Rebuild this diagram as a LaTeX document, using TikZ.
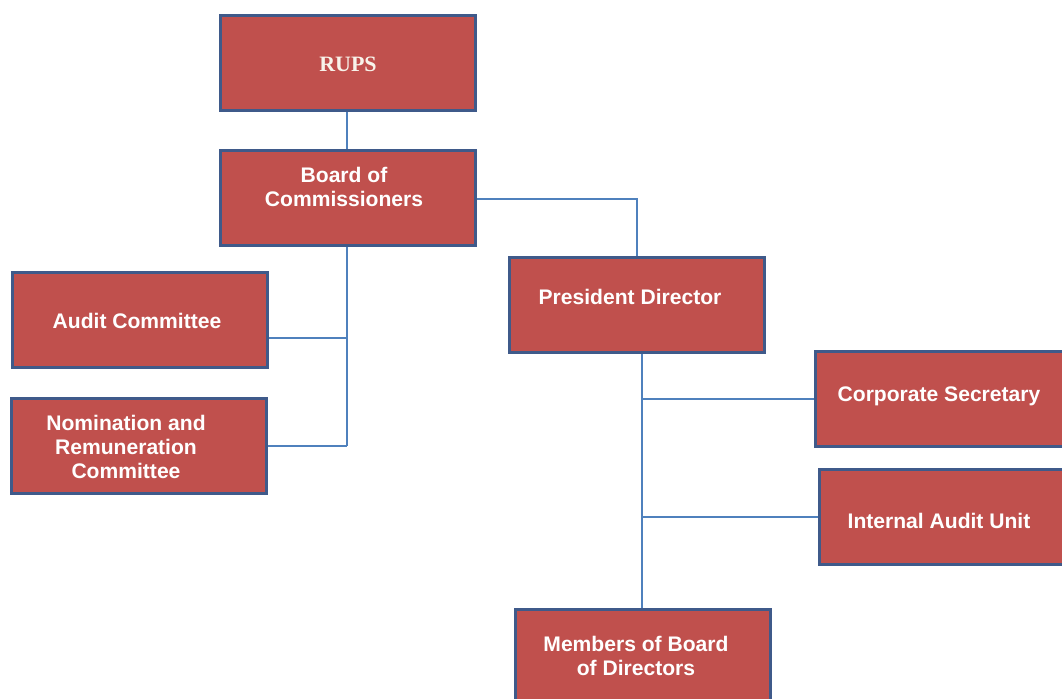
\documentclass[tikz,border=0pt]{standalone}
\usepackage{fontspec}
\setmainfont{Liberation Sans}
\newfontfamily\rupsfont{Liberation Serif}
\definecolor{boxred}{HTML}{C0504D}
\definecolor{boxedge}{HTML}{3F5A8A}
\definecolor{wireblue}{HTML}{4F81BD}
\definecolor{cream}{HTML}{F8F3EA}
\tikzset{
  unit/.style={draw=boxedge, fill=boxred, line width=1.7pt,
    minimum width=5.12cm, minimum height=1.9cm, inner sep=0pt},
  txt/.style={text=white, font=\fontsize{12}{13.7}\selectfont\bfseries,
    align=center, inner sep=0pt},
  wire/.style={draw=wireblue, line width=1.1pt}
}
\begin{document}
\begin{tikzpicture}[x=0.02cm, y=-0.02cm]
  \useasboundingbox (0,0) rectangle (1062,699);
  \clip (0,0) rectangle (1062,699);
  % boxes
  \node[unit] (rups) at (348,63) {};
  \node[unit] (board) at (348,198) {};
  \node[unit] (audit) at (140,320) {};
  \node[unit] (nom) at (139,446) {};
  \node[unit] (pres) at (637,305) {};
  \node[unit] (corp) at (943,399) {};
  \node[unit] (iau) at (947,517) {};
  \node[unit] (members) at (643,657) {};
  % texts
  \node[txt, text=cream, font=\fontsize{12.5}{13.7}\selectfont\rupsfont\bfseries] (rupst) at (348,64) {RUPS};
  \node[txt] (boardt) at (344,187) {Board of\\Commissioners};
  \node[txt] (auditt) at (137,321) {Audit Committee};
  \node[txt] (nomt) at (126,447) {Nomination and\\Remuneration\\Committee};
  \node[txt] (prest) at (630,297) {President Director};
  \node[txt] (corpt) at (939,396) {Corporate Secretary};
  \node[txt] (iaut) at (939,521) {Internal Audit Unit};
  \node[txt] (memberst) at (636,656) {Members of Board\\of Directors};
  % connectors
  \coordinate (bj1) at (347,338);
  \coordinate (bj2) at (347,446);
  \coordinate (pj1) at (642,399);
  \coordinate (pj2) at (642,517);
  \draw[wire] (rups.south -| bj1) -- (board.north -| bj1);
  \draw[wire] (board.south -| bj1) -- (bj2);
  \draw[wire] (audit.east |- bj1) -- (bj1);
  \draw[wire] (nom.east |- bj2) -- (bj2);
  \draw[wire] (board.east |- 0,199) -| (pres.north);
  \draw[wire] (pres.south -| pj1) -- (members.north -| pj1);
  \draw[wire] (corp.west |- pj1) -- (pj1);
  \draw[wire] (iau.west |- pj2) -- (pj2);
\end{tikzpicture}
\end{document}
